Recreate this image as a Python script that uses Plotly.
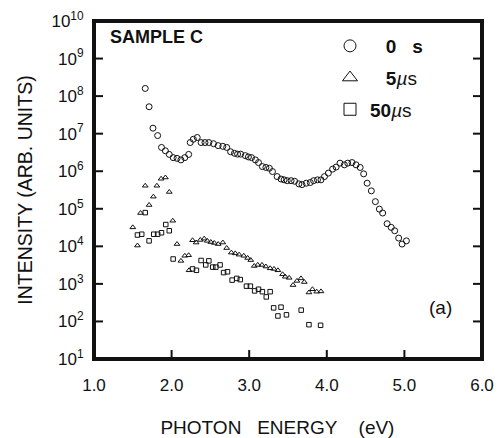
import plotly.graph_objects as go

# ---- data (photon energy in eV, intensity in arb. units) ----
x_0s = [1.66, 1.71, 1.76, 1.82, 1.87, 1.92, 1.97, 2.02, 2.07, 2.12, 2.17, 2.22,
        2.24, 2.28, 2.33, 2.38, 2.43, 2.48, 2.54, 2.60, 2.66, 2.71, 2.76, 2.81,
        2.85, 2.89, 2.95, 2.99, 3.03, 3.08, 3.12, 3.17, 3.215, 3.26, 3.30, 3.36,
        3.41, 3.45, 3.49, 3.54, 3.585, 3.64, 3.68, 3.735, 3.787, 3.83, 3.88, 3.925,
        3.97, 4.02, 4.075, 4.12, 4.17, 4.226, 4.27, 4.325, 4.377, 4.43, 4.475, 4.52,
        4.574, 4.626, 4.677, 4.72, 4.777, 4.83, 4.875, 4.926, 4.97, 5.026]
y_0s = [1.6e8, 5.2e7, 1.4e7, 8.9e6, 4.3e6, 3.5e6, 2.8e6, 2.3e6, 2.2e6, 2.0e6, 2.3e6, 2.8e6,
        5.8e6, 7.1e6, 7.9e6, 5.8e6, 5.8e6, 5.8e6, 5.4e6, 4.8e6, 4.6e6, 4.3e6, 3.3e6, 3.0e6,
        2.85e6, 2.85e6, 2.6e6, 2.4e6, 2.3e6, 2.0e6, 1.7e6, 1.33e6, 1.26e6, 1.2e6, 9.8e5, 7.2e5,
        6.2e5, 5.9e5, 5.6e5, 5.6e5, 5.4e5, 4.6e5, 4.4e5, 4.8e5, 5.0e5, 5.6e5, 5.9e5, 5.9e5,
        7.2e5, 8.9e5, 1.14e6, 1.29e6, 1.64e6, 1.48e6, 1.64e6, 1.7e6, 1.48e6, 1.26e6, 8.5e5, 4.8e5,
        3.0e5, 1.55e5, 9.8e4, 7.7e4, 4.0e4, 3.2e4, 2.6e4, 1.66e4, 1.15e4, 1.4e4]

x_5us = [1.50, 1.56, 1.60, 1.66, 1.71, 1.765, 1.81, 1.865, 1.92, 1.97, 2.015, 2.07,
         2.12, 2.17, 2.22, 2.225, 2.27, 2.316, 2.37, 2.42, 2.46, 2.505, 2.55, 2.60,
         2.66, 2.71, 2.77, 2.82, 2.87, 2.93, 2.98, 3.02, 3.065, 3.11, 3.165, 3.215,
         3.27, 3.32, 3.37, 3.43, 3.465, 3.515, 3.565, 3.615, 3.667, 3.71, 3.77, 3.815,
         3.87, 3.925]
y_5us = [3.2e4, 1.05e4, 7.7e4, 4.1e5, 1.26e5, 2.1e5, 4.1e5, 6.3e5, 6.8e5, 2.8e5, 4.8e4, 1.15e4,
         4.1e3, 5.6e3, 5.8e3, 2.3e3, 1.45e4, 1.26e4, 1.48e4, 1.6e4, 1.4e4, 1.3e4, 1.23e4, 1.15e4,
         1.26e4, 9.0e3, 6.8e3, 6.5e3, 6.0e3, 5.6e3, 4.9e3, 4.3e3, 3.0e3, 3.2e3, 3.2e3, 2.9e3,
         2.6e3, 2.5e3, 2.3e3, 1.8e3, 1.55e3, 1.45e3, 930, 1.2e3, 1.4e3, 1.12e3, 590, 720,
         620, 630]

x_50us = [1.56, 1.615, 1.66, 1.71, 1.77, 1.82, 1.87, 1.925, 1.97, 2.02, 2.27, 2.32,
          2.38, 2.44, 2.48, 2.53, 2.57, 2.625, 2.67, 2.72, 2.78, 2.84, 2.885, 2.965,
          3.015, 3.07, 3.12, 3.17, 3.22, 3.27, 3.315, 3.37, 3.41, 3.48, 3.67, 3.77, 3.92]
y_50us = [2.0e4, 2.1e4, 7.9e4, 1.4e4, 2.1e4, 2.1e4, 2.3e4, 3.8e4, 2.6e4, 4.6e3, 2.5e3, 2.3e3,
          4.2e3, 3.2e3, 4.1e3, 2.8e3, 2.8e3, 3.2e3, 2.0e3, 2.1e3, 1.26e3, 1.4e3, 1.3e3, 870,
          870, 650, 720, 620, 450, 620, 230, 140, 240, 150, 200, 82, 79]

NB = "\u00a0"
ZW = "\u200b"
series_names = [NB * 3 + "<b>0" + NB * 3 + "s</b>",
                NB * 3 + "<b>5</b><i>\u00b5</i>s",
                "<b>50</b><i>\u00b5</i>s"]
y_tick_vals = [1e1, 1e2, 1e3, 1e4, 1e5, 1e6, 1e7, 1e8, 1e9, 1e10]
y_tick_text = ["10<sup>1</sup>", "10<sup>2</sup>", "10<sup>3</sup>", "10<sup>4</sup>",
               "10<sup>5</sup>", "10<sup>6</sup>", "10<sup>7</sup>", "10<sup>8</sup>",
               "10<sup>9</sup>", "10<sup>10</sup>"]
x_tick_vals = [1, 2, 3, 4, 5, 6]
x_tick_text = ["1.0", "2.0", "3.0", "4.0", "5.0", "6.0"]
x_range = [1, 6]
y_range_exp = [1, 10]

FONT = "Liberation Sans, Arial, sans-serif"
BLACK = "#111111"

W, H = 500, 438
PL, PR, PT, PB = 94, 482, 21, 359   # plot area in window pixels
TICK = 9                            # inside tick length (px)
PX_PER_X = (PR - PL) / (x_range[1] - x_range[0])
PX_PER_DECADE = (PB - PT) / (y_range_exp[1] - y_range_exp[0])


def px_x(p):
    return (p - PL) / (PR - PL)


def px_y(p):
    return 1 - (p - PT) / (PB - PT)


fig = go.Figure()

# ---- plot frame and inside tick marks (drawn as line traces) ----
x_lo, x_hi = x_range
y_lo, y_hi = y_tick_vals[0], y_tick_vals[-1]
fig.add_trace(go.Scatter(x=[x_lo, x_hi, x_hi, x_lo, x_lo], y=[y_lo, y_lo, y_hi, y_hi, y_lo],
                         mode="lines", line=dict(color=BLACK, width=4),
                         showlegend=False, hoverinfo="skip"))
dx = TICK / PX_PER_X
dy = 10 ** (TICK / PX_PER_DECADE)
tx, ty = [], []
for xv in x_tick_vals[1:-1]:
    tx += [xv, xv, None]
    ty += [y_lo, y_lo * dy, None]
for yv in y_tick_vals[1:-1]:
    tx += [x_lo, x_lo + dx, None, x_hi - dx, x_hi, None]
    ty += [yv, yv, None, yv, yv, None]
fig.add_trace(go.Scatter(x=tx, y=ty, mode="lines", line=dict(color=BLACK, width=2),
                         showlegend=False, hoverinfo="skip", connectgaps=False))

# ---- data series ----
symbols = ["circle-open", "triangle-up-open", "square-open"]
sizes = [6, 5, 4.5]
for xs, ys, sym, sz in [(x_0s, y_0s, symbols[0], sizes[0]),
                        (x_5us, y_5us, symbols[1], sizes[1]),
                        (x_50us, y_50us, symbols[2], sizes[2])]:
    fig.add_trace(go.Scatter(x=xs, y=ys, mode="markers", showlegend=False,
                             marker=dict(symbol=sym, size=sz, color=BLACK,
                                         line=dict(width=1, color=BLACK))))

# legend entries (larger symbols, as in the original key)
for i, (name, sym) in enumerate(zip(series_names, symbols)):
    fig.add_trace(go.Scatter(x=[None], y=[None], mode="markers", name=name,
                             legendgroup=str(i),
                             marker=dict(symbol=sym, size=12 if i != 1 else 13, color=BLACK,
                                         line=dict(width=1, color=BLACK))))

fig.update_layout(
    width=W, height=H,
    margin=dict(l=PL, r=W - PR, t=PT, b=H - PB),
    paper_bgcolor="white", plot_bgcolor="white",
    font=dict(family=FONT, color=BLACK, size=15),
    legend=dict(x=px_x(330), y=px_y(27), xanchor="left", yanchor="top",
                bgcolor="rgba(0,0,0,0)", font=dict(size=19, family=FONT),
                tracegroupgap=4, itemsizing="trace"),
    xaxis=dict(range=x_range, tickvals=x_tick_vals, ticktext=x_tick_text,
               showline=True, linewidth=2, linecolor=BLACK, mirror=True,
               ticks="", showgrid=False, zeroline=False, automargin=False,
               ticklabelstandoff=10, tickfont=dict(size=17),
               title=dict(text="PHOTON" + NB * 3 + "ENERGY" + NB * 4 + "(eV)" + NB * 4 + ZW,
                          font=dict(size=19), standoff=38)),
    yaxis=dict(type="log", range=y_range_exp, tickvals=y_tick_vals, ticktext=y_tick_text,
               showline=True, linewidth=2, linecolor=BLACK, mirror=True,
               ticks="", showgrid=False, zeroline=False, automargin=False,
               ticklabelstandoff=5, tickfont=dict(size=17),
               title=dict(text="INTENSITY (ARB. UNITS)", font=dict(size=19.5), standoff=14)),
    annotations=[
        dict(text="<b>SAMPLE C</b>", xref="paper", yref="paper",
             x=px_x(108), y=px_y(37), xanchor="left", yanchor="middle",
             showarrow=False, font=dict(size=18)),
        dict(text="(a)", xref="paper", yref="paper",
             x=px_x(440), y=px_y(307), xanchor="center", yanchor="middle",
             showarrow=False, font=dict(size=19)),
    ],
)

# remove the default 8px page margin so the figure fills the 500x438 window
fig.write_html("out.html", config={"displayModeBar": False},
               post_script="document.body.style.margin='0';"
                           "document.body.style.overflow='hidden';")
